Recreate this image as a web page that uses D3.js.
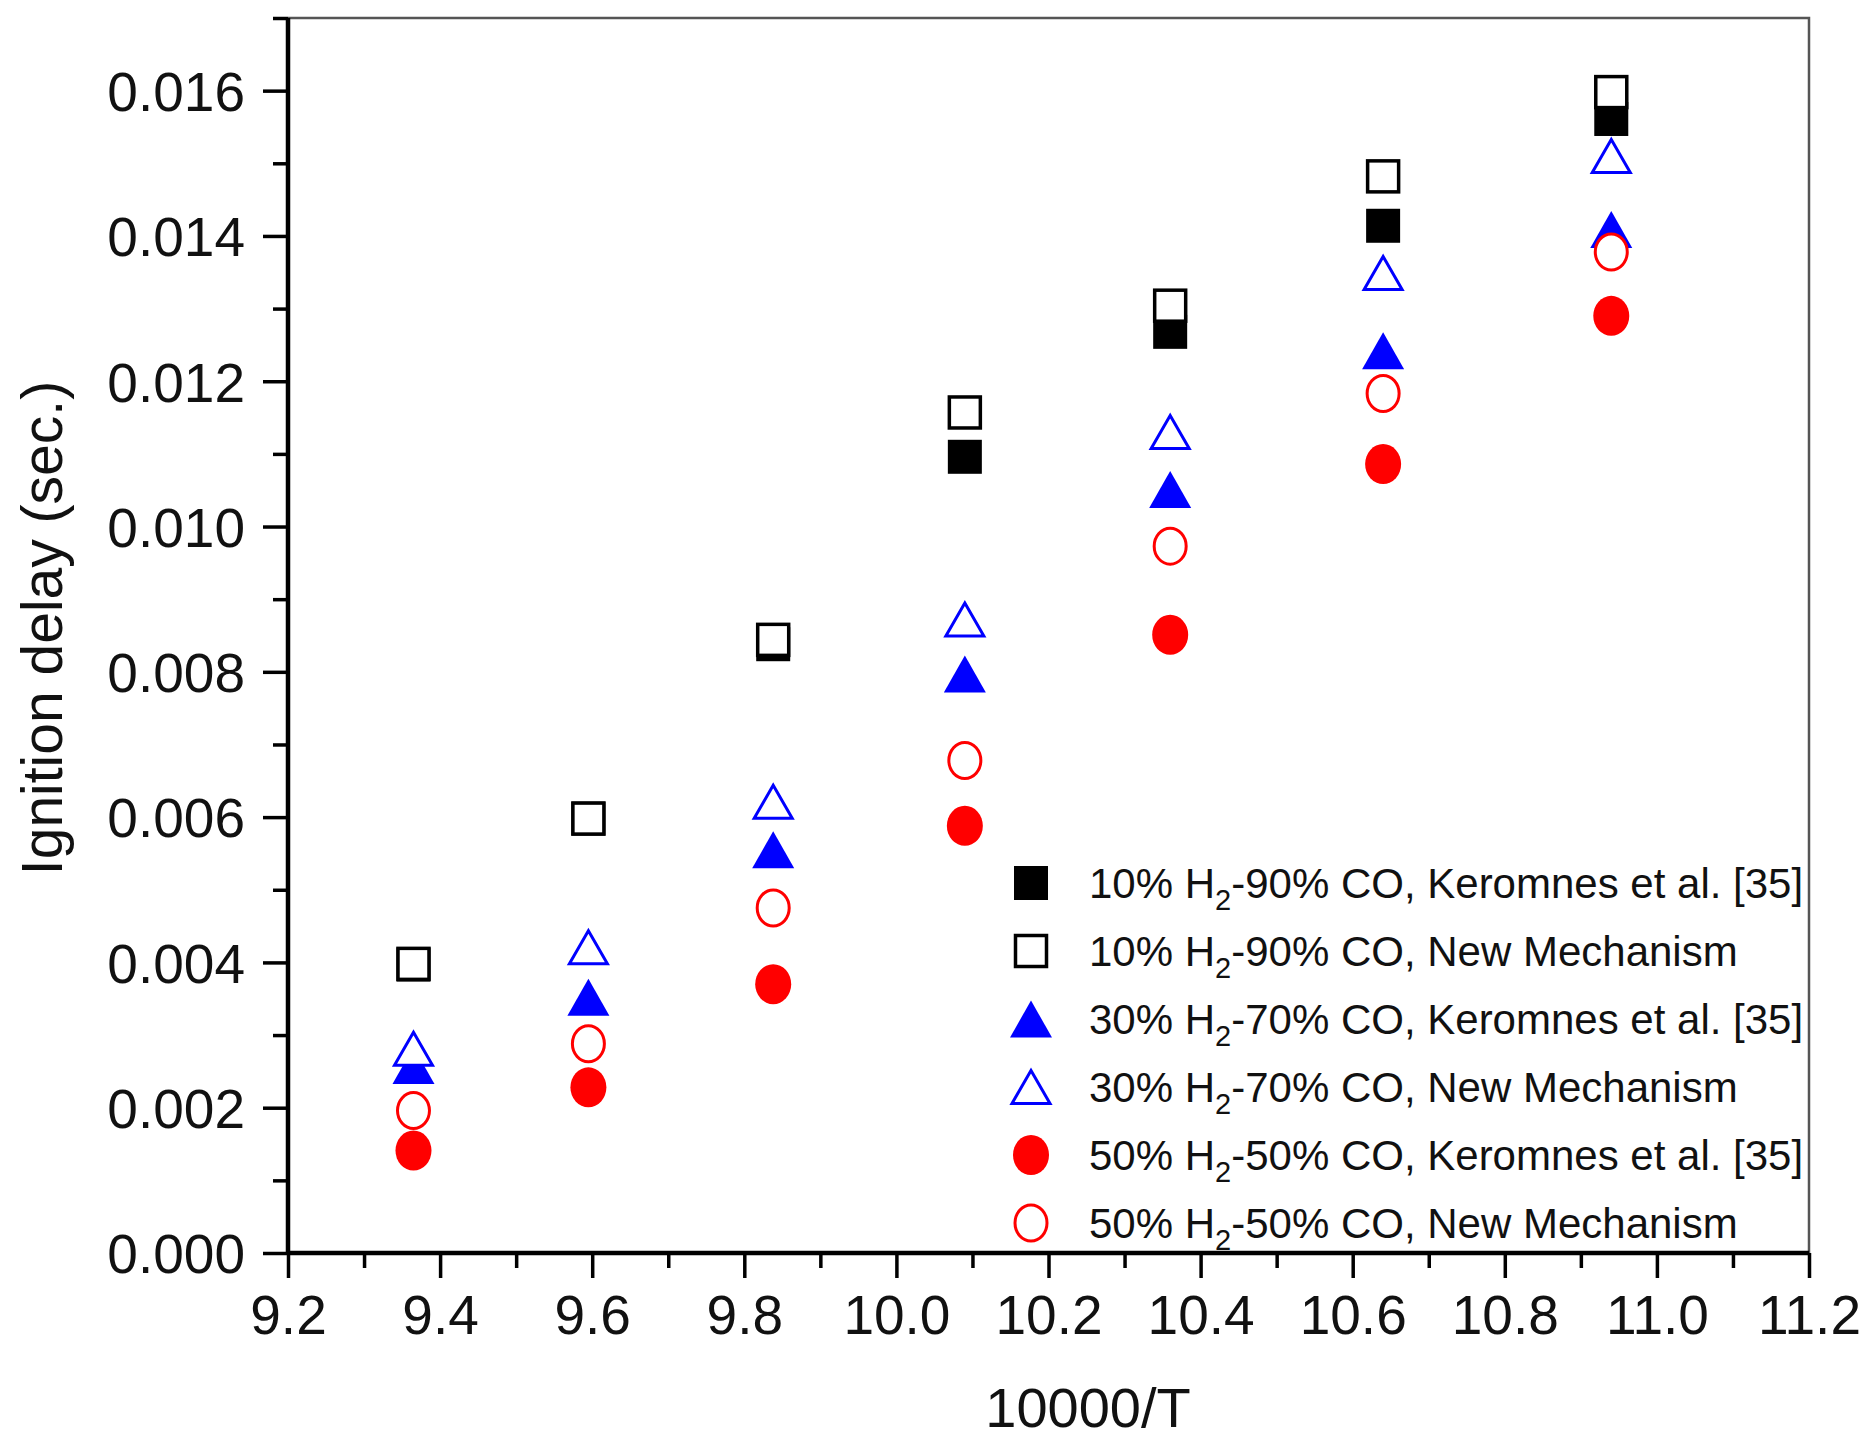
<!DOCTYPE html>
<html>
<head>
<meta charset="utf-8">
<script src="https://cdn.jsdelivr.net/npm/d3@7"></script>
<style>
  html, body { margin: 0; padding: 0; background: #fff; }
  svg { display: block; font-family: "Liberation Sans", Arial, sans-serif; }
</style>
</head>
<body>
<div id="chart"></div>
<script>
// values
const xValues = [9.365, 9.595, 9.838, 10.09, 10.36, 10.64, 10.94];
const h10Keromnes = [0.00397, 0.00598, 0.00838, 0.01096, 0.01268, 0.01414, 0.01561];
const h10NewMech  = [0.00398, 0.00598, 0.00844, 0.01157, 0.01304, 0.01482, 0.01598];
const h30Keromnes = [0.00258, 0.00352, 0.00555, 0.00797, 0.01051, 0.01242, 0.01409];
const h30NewMech  = [0.00281, 0.00421, 0.00621, 0.00872, 0.01130, 0.01349, 0.01510];
const h50Keromnes = [0.00141, 0.00228, 0.00370, 0.00588, 0.00851, 0.01086, 0.01290];
const h50NewMech  = [0.00196, 0.00288, 0.00475, 0.00678, 0.00973, 0.01183, 0.01378];

const xTicks = [9.2, 9.4, 9.6, 9.8, 10.0, 10.2, 10.4, 10.6, 10.8, 11.0, 11.2];
const yTicks = [0, 0.002, 0.004, 0.006, 0.008, 0.010, 0.012, 0.014, 0.016];

const seriesNames = [
  ["10%", "-90% CO, Keromnes et al. [35]"],
  ["10%", "-90% CO, New Mechanism"],
  ["30%", "-70% CO, Keromnes et al. [35]"],
  ["30%", "-70% CO, New Mechanism"],
  ["50%", "-50% CO, Keromnes et al. [35]"],
  ["50%", "-50% CO, New Mechanism"]
];
const seriesValues = [h10Keromnes, h10NewMech, h30Keromnes, h30NewMech, h50Keromnes, h50NewMech];
const seriesShapes = ["square", "square", "triangle", "triangle", "circle", "circle"];
const seriesFilled = [true, false, true, false, true, false];
const seriesColors = ["#000000", "#000000", "#0000ff", "#0000ff", "#ff0000", "#ff0000"];

const width = 1871, height = 1440;
const plot = {left: 288, right: 1809, top: 18, bottom: 1253};

const svg = d3.select("#chart").append("svg")
  .attr("width", width)
  .attr("height", height);

const x = d3.scaleLinear().domain([9.2, 11.2]).range([plot.left, plot.right]);
const y = d3.scaleLinear().domain([0, 0.017]).range([plot.bottom, plot.top]);

// frame: top and right thinner grey
svg.append("path")
  .attr("d", `M${plot.left},${plot.top}H${plot.right}V${plot.bottom}`)
  .attr("fill", "none")
  .attr("stroke", "#555")
  .attr("stroke-width", 2.5);

// minor ticks
const xMinor = d3.range(9.3, 11.2, 0.2);
const yMinor = d3.range(0.001, 0.0175, 0.002);

svg.append("g")
  .attr("transform", `translate(0,${plot.bottom})`)
  .call(d3.axisBottom(x).tickValues(xMinor).tickSize(15).tickFormat(""))
  .call(g => g.select(".domain").remove())
  .selectAll("line").attr("stroke", "#000").attr("stroke-width", 3.5);

svg.append("g")
  .attr("transform", `translate(${plot.left},0)`)
  .call(d3.axisLeft(y).tickValues(yMinor).tickSize(15).tickFormat(""))
  .call(g => g.select(".domain").remove())
  .selectAll("line").attr("stroke", "#000").attr("stroke-width", 3.5);

// major axes
const xAxis = svg.append("g")
  .attr("transform", `translate(0,${plot.bottom})`)
  .call(d3.axisBottom(x).tickValues(xTicks).tickSize(25).tickPadding(17).tickFormat(d3.format(".1f")));

const yAxis = svg.append("g")
  .attr("transform", `translate(${plot.left},0)`)
  .call(d3.axisLeft(y).tickValues(yTicks).tickSize(25).tickPadding(18).tickFormat(d3.format(".3f")));

[xAxis, yAxis].forEach(ax => {
  ax.select(".domain").attr("stroke", "#000").attr("stroke-width", 4.5);
  ax.selectAll(".tick line").attr("stroke", "#000").attr("stroke-width", 3.5);
  ax.selectAll(".tick text")
    .attr("fill", "#111")
    .attr("font-size", 55)
    .attr("font-family", "\"Liberation Sans\", Arial, sans-serif");
});
xAxis.select(".domain").attr("d", `M${plot.left},0H${plot.right}`);
yAxis.select(".domain").attr("d", `M0,${plot.top}V${plot.bottom}`);
yAxis.selectAll(".tick text").attr("dy", "0.36em");

// axis titles
svg.append("text")
  .attr("transform", `translate(62,${628}) rotate(-90)`)
  .attr("text-anchor", "middle")
  .attr("font-size", 57)
  .attr("fill", "#111")
  .text("Ignition delay (sec.)");

svg.append("text")
  .attr("x", 1088)
  .attr("y", 1427)
  .attr("text-anchor", "middle")
  .attr("font-size", 56)
  .attr("fill", "#111")
  .text("10000/T");

// marker drawing
function drawMarker(g, shape, filled, color, cx, cy) {
  const fill = filled ? color : "#fff";
  const sw = filled ? 0 : 3.5;
  if (shape === "square") {
    const s = filled ? 34 : 31;
    g.append("rect")
      .attr("x", cx - s / 2).attr("y", cy - s / 2)
      .attr("width", s).attr("height", s)
      .attr("fill", fill).attr("stroke", color).attr("stroke-width", sw);
  } else if (shape === "triangle") {
    const w = filled ? 42 : 38, h = filled ? 37 : 33;
    g.append("path")
      .attr("d", `M${cx},${cy - h / 2}L${cx + w / 2},${cy + h / 2}L${cx - w / 2},${cy + h / 2}Z`)
      .attr("fill", fill).attr("stroke", color).attr("stroke-width", filled ? 0 : 3)
      .attr("stroke-linejoin", "miter");
  } else {
    g.append("ellipse")
      .attr("cx", cx).attr("cy", cy)
      .attr("rx", filled ? 18 : 16).attr("ry", filled ? 20 : 18)
      .attr("fill", fill).attr("stroke", color).attr("stroke-width", filled ? 0 : 3);
  }
}

const marks = svg.append("g");
seriesValues.forEach((vals, i) => {
  const g = marks.append("g");
  vals.forEach((v, j) => {
    drawMarker(g, seriesShapes[i], seriesFilled[i], seriesColors[i], x(xValues[j]), y(v));
  });
});

// legend
const legend = svg.append("g").attr("transform", "translate(1031,883)");
seriesNames.forEach((name, i) => {
  const row = legend.append("g").attr("transform", `translate(0,${i * 68})`);
  drawMarker(row, seriesShapes[i], seriesFilled[i], seriesColors[i], 0, 0);
  const t = row.append("text")
    .attr("x", 58)
    .attr("y", 15)
    .attr("font-size", 42)
    .attr("fill", "#111");
  t.append("tspan").text(name[0] + " H");
  t.append("tspan").attr("font-size", 29).attr("dy", 12).text("2");
  t.append("tspan").attr("dy", -12).text(name[1]);
});
</script>
</body>
</html>
